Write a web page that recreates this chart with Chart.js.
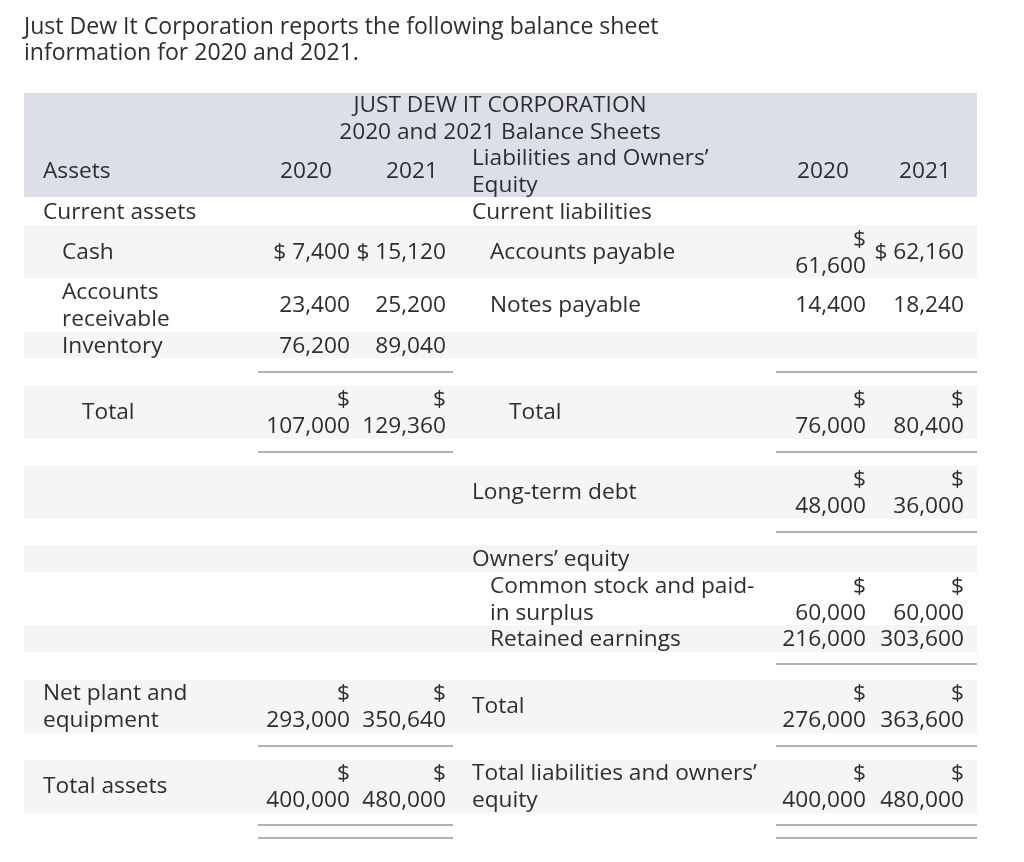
<!DOCTYPE html>
<html>
<head>
<meta charset="utf-8">
<script src="https://cdn.jsdelivr.net/npm/chart.js@4/dist/chart.umd.min.js"></script>
<style>
  html, body { margin: 0; padding: 0; background: #fff; }
  #wrap { position: relative; width: 1024px; height: 862px; }
  #sheet { position: absolute; left: 0; top: 0; }
  #intro {
    position: absolute; left: 24px; top: 12px; margin: 0;
    font-family: 'Open Sans', sans-serif; color: #2e2e2e; line-height: 26px;
    white-space: nowrap;
  }
</style>
</head>
<body>
<div id="wrap">
  <canvas id="sheet" width="1024" height="862"></canvas>
  <p id="intro"></p>
</div>
<script>
'use strict';

// ---- data ----
const introLines = ['Just Dew It Corporation reports the following balance sheet', 'information for 2020 and 2021.'];
const tableTitle = ['JUST DEW IT CORPORATION', '2020 and 2021 Balance Sheets'];
const years = ['2020', '2021'];
const assetHeading = 'Assets';
const claimHeading = 'Liabilities and Owners’\nEquity';
const sectionLabels = ['Current assets', 'Current liabilities', 'Owners’ equity'];

const assetLabels = ['Cash', 'Accounts\nreceivable', 'Inventory', 'Total', 'Net plant and\nequipment', 'Total assets'];
const assets2020 = [7400, 23400, 76200, 107000, 293000, 400000];
const assets2021 = [15120, 25200, 89040, 129360, 350640, 480000];

const claimLabels = ['Accounts payable', 'Notes payable', 'Total', 'Long-term debt',
  'Common stock and paid-\nin surplus', 'Retained earnings', 'Total', 'Total liabilities and owners’\nequity'];
const claims2020 = [61600, 14400, 76000, 48000, 60000, 216000, 276000, 400000];
const claims2021 = [62160, 18240, 80400, 36000, 60000, 303600, 363600, 480000];

// ---- layout (page units, same as pixels) ----
const fontFamily = "'Open Sans', sans-serif";
const textColor = '#2e2e2e';
const textShift = 2;
const tableLeft = 24, tableRight = 977;
const headBand = [93, 197];
const grayBands = [[225, 278], [332, 358], [386, 439], [466, 519], [545, 572], [625, 652], [680, 733], [760, 813]];
const leftRules = [372, 452, 746, 825, 838];
const rightRules = [372, 452, 532, 664, 746, 825, 838];
const leftRuleSpan = [258, 453];
const rightRuleSpan = [776, 977];
const leftValueRight = [350, 446];
const rightValueRight = [866, 964];
const leftYearCenter = [306, 412];
const rightYearCenter = [823, 925];
const lineGap = 27;

const assetRowY = [251, 304, 345, 411, 705, 785];
const assetIndent = [62, 62, 62, 82, 43, 43];
const assetDollar = [['inline', 'inline'], ['none', 'none'], ['none', 'none'], ['stack', 'stack'], ['stack', 'stack'], ['stack', 'stack']];
const claimRowY = [251, 304, 411, 491, 598, 638, 705, 785];
const claimIndent = [490, 490, 509, 472, 490, 490, 472, 472];
const claimDollar = [['stack', 'inline'], ['none', 'none'], ['stack', 'stack'], ['stack', 'stack'],
  ['stack', 'stack'], ['none', 'none'], ['stack', 'stack'], ['stack', 'stack']];

function fitSize(text, width) {
  const c = document.createElement('canvas').getContext('2d');
  c.font = '100px ' + fontFamily;
  return 100 * width / c.measureText(text).width;
}

let bodySize = 20;
let introSize = 22;

function fmt(n) {
  return n.toLocaleString('en-US');
}

const tablePlugin = {
  id: 'balanceTable',
  beforeDatasetsDraw(chart) {
    const { ctx, scales: { x, y } } = chart;
    const px = v => x.getPixelForValue(v);
    const py = v => y.getPixelForValue(v);

    ctx.save();
    // bands
    ctx.fillStyle = '#dcdfe8';
    ctx.fillRect(px(tableLeft), py(headBand[0]), px(tableRight) - px(tableLeft), py(headBand[1]) - py(headBand[0]));
    ctx.fillStyle = '#f5f5f5';
    grayBands.forEach(b => {
      ctx.fillRect(px(tableLeft), py(b[0]), px(tableRight) - px(tableLeft), py(b[1]) - py(b[0]));
    });

    // rules
    ctx.strokeStyle = '#999';
    ctx.lineWidth = 1.5;
    const rule = (span, yy) => {
      ctx.beginPath();
      ctx.moveTo(px(span[0]), py(yy));
      ctx.lineTo(px(span[1]), py(yy));
      ctx.stroke();
    };
    leftRules.forEach(r => rule(leftRuleSpan, r));
    rightRules.forEach(r => rule(rightRuleSpan, r));

    ctx.fillStyle = textColor;
    ctx.font = bodySize + 'px ' + fontFamily;
    ctx.textBaseline = 'middle';

    const multi = (text, xx, yc, align) => {
      const lines = text.split('\n');
      ctx.textAlign = align;
      lines.forEach((l, i) => {
        ctx.fillText(l, px(xx), py(yc + textShift + (i - (lines.length - 1) / 2) * lineGap));
      });
    };

    // header
    multi(tableTitle[0], 500, 104, 'center');
    multi(tableTitle[1], 500, 131, 'center');
    multi(assetHeading, 43, 170, 'left');
    multi(claimHeading, 472, 170, 'left');
    years.forEach((yr, i) => {
      multi(yr, leftYearCenter[i], 170, 'center');
      multi(yr, rightYearCenter[i], 170, 'center');
    });

    // sections
    multi(sectionLabels[0], 43, 211, 'left');
    multi(sectionLabels[1], 472, 211, 'left');
    multi(sectionLabels[2], 472, 558, 'left');

    const cell = (val, mode, right, yc) => {
      if (mode === 'inline') multi('$ ' + fmt(val), right, yc, 'right');
      else if (mode === 'stack') multi('$\n' + fmt(val), right, yc, 'right');
      else multi(fmt(val), right, yc, 'right');
    };

    assetLabels.forEach((lab, i) => {
      multi(lab, assetIndent[i], assetRowY[i], 'left');
      cell(assets2020[i], assetDollar[i][0], leftValueRight[0], assetRowY[i]);
      cell(assets2021[i], assetDollar[i][1], leftValueRight[1], assetRowY[i]);
    });
    claimLabels.forEach((lab, i) => {
      multi(lab, claimIndent[i], claimRowY[i], 'left');
      cell(claims2020[i], claimDollar[i][0], rightValueRight[0], claimRowY[i]);
      cell(claims2021[i], claimDollar[i][1], rightValueRight[1], claimRowY[i]);
    });
    ctx.restore();
  }
};

function init() {
  bodySize = fitSize('Total liabilities and owners’', 285);
  introSize = fitSize(introLines[0], 635);
  const intro = document.getElementById('intro');
  intro.style.fontSize = introSize + 'px';
  intro.innerHTML = introLines.join('<br>');

  new Chart(document.getElementById('sheet'), {
    type: 'scatter',
    data: { datasets: [] },
    options: {
      responsive: false,
      animation: false,
      layout: { padding: 0 },
      plugins: { legend: { display: false }, tooltip: { enabled: false } },
      scales: {
        x: { type: 'linear', min: 0, max: 1024, display: false },
        y: { type: 'linear', min: 0, max: 862, reverse: true, display: false }
      }
    },
    plugins: [tablePlugin]
  });
}

document.fonts.load('20px "Open Sans"').then(init, init);
</script>
</body>
</html>
